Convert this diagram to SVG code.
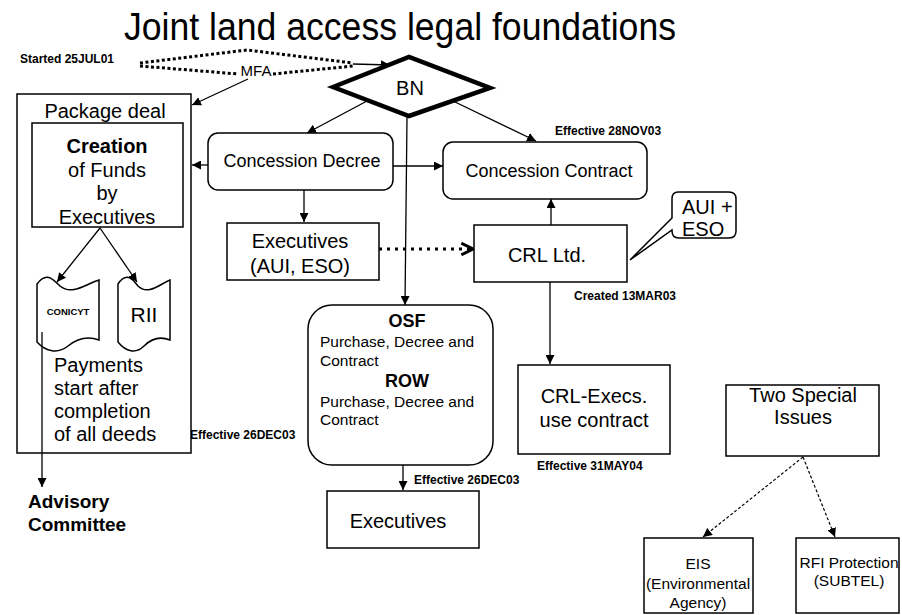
<svg xmlns="http://www.w3.org/2000/svg" width="902" height="615" viewBox="0 0 902 615">
<defs>
<marker id="ah" viewBox="0 0 10 10" refX="10" refY="5" markerWidth="9" markerHeight="9" markerUnits="userSpaceOnUse" orient="auto">
<path d="M0,0 L10,5 L0,10 z" fill="#000"/>
</marker>
<marker id="chev" viewBox="0 0 12 12" refX="11" refY="6" markerWidth="14" markerHeight="14" markerUnits="userSpaceOnUse" orient="auto">
<path d="M1,1 L11,6 L1,11" fill="none" stroke="#000" stroke-width="2.5"/>
</marker>
</defs>
<style>
text{font-family:"Liberation Sans",Arial,sans-serif;fill:#000}
.box{fill:#fff;stroke:#000;stroke-width:1.5}
.c{stroke:#000;stroke-width:1.3;fill:none}
.a{marker-end:url(#ah)}
.t20{font-size:20px}
.t18{font-size:18px}
.t15{font-size:15.5px}
.lbl{font-size:12px;font-weight:bold}
.mid{text-anchor:middle}
</style>
<rect width="902" height="615" fill="#fff"/>
<text x="400" y="40" class="mid" font-size="38" textLength="552" lengthAdjust="spacingAndGlyphs">Joint land access legal foundations</text>

<g id="labels">
<text x="20" y="63" class="lbl">Started 25JUL01</text>
<text x="555" y="135" class="lbl">Effective 28NOV03</text>
<text x="574" y="300" class="lbl">Created 13MAR03</text>
<text x="190" y="439" class="lbl">Effective 26DEC03</text>
<text x="414" y="484" class="lbl">Effective 26DEC03</text>
<text x="537" y="470" class="lbl">Effective 31MAY04</text>
</g>

<g id="mfa">
<path d="M140,63 L247,50 L353,63" fill="none" stroke="#000" stroke-width="3" stroke-dasharray="3,2.5"/>
<path d="M140,66 L238,74 M273,74 L353,66" fill="none" stroke="#000" stroke-width="3" stroke-dasharray="3,2.5"/>
<text x="256" y="76" class="mid" font-size="15">MFA</text>
</g>

<g id="bn">
<path d="M333,87 L409,57 L490,88 L409,116 z" fill="#fff" stroke="#000" stroke-width="4.5" stroke-linejoin="miter"/>
<text x="410" y="95" class="mid t20">BN</text>
</g>

<g id="package-deal">
<rect x="17" y="94" width="174" height="359" class="box"/>
<text x="105" y="118" class="mid t20">Package deal</text>
</g>

<g id="creation">
<rect x="32" y="123" width="151" height="104" class="box"/>
<text x="107" y="153" class="mid t20" font-weight="bold">Creation</text>
<text x="107" y="177" class="mid t20">of Funds</text>
<text x="107" y="200" class="mid t20">by</text>
<text x="107" y="224" class="mid t20">Executives</text>
</g>

<g id="conicyt">
<path d="M37,284 C46,272 52,278 60,286 C72,296 86,284 99,280 L99,340 C88,336 78,338 68,346 C58,354 46,352 37,342 z" class="box"/>
<text x="68" y="315" class="mid" font-size="9.5" font-weight="bold">CONICYT</text>
</g>

<g id="rii">
<path d="M118,284 C126,272 132,278 138,286 C148,296 160,284 170,280 L170,340 C160,336 152,338 144,346 C136,354 126,352 118,342 z" class="box"/>
<text x="144" y="322" class="mid" font-size="21">RII</text>
</g>

<g id="payments">
<text x="54" y="372" class="t20">Payments</text>
<text x="54" y="395" class="t20">start after</text>
<text x="54" y="418" class="t20">completion</text>
<text x="54" y="441" class="t20">of all deeds</text>
</g>

<g id="advisory">
<text x="28" y="508" font-size="19" font-weight="bold">Advisory</text>
<text x="28" y="531" font-size="19" font-weight="bold">Committee</text>
</g>

<g id="concession-decree">
<rect x="208" y="133" width="185" height="57" rx="10" class="box"/>
<text x="302" y="167" class="mid t18">Concession Decree</text>
</g>

<g id="concession-contract">
<rect x="443" y="142" width="204" height="57" rx="10" class="box"/>
<text x="549" y="177" class="mid t18">Concession Contract</text>
</g>

<g id="executives-aui">
<rect x="227" y="223" width="152" height="57" class="box"/>
<text x="300" y="248" class="mid t20">Executives</text>
<text x="300" y="273" class="mid t20">(AUI, ESO)</text>
</g>

<g id="crl">
<rect x="474" y="225" width="153" height="57" class="box"/>
<text x="547" y="262" class="mid t20">CRL Ltd.</text>
</g>

<g id="callout">
<path d="M678,192 L729,192 Q736,192 736,199 L736,231 Q736,238 729,238 L679,238 Q672,238 672,231 L672,230 L630,260 L672,218 L672,199 Q672,192 678,192 z" class="box" stroke-width="1.3"/>
<text x="682" y="214" class="t20">AUI +</text>
<text x="682" y="236" class="t20">ESO</text>
</g>

<g id="osf">
<rect x="308" y="305" width="185" height="160" rx="24" class="box"/>
<text x="407" y="327" class="mid" font-size="18" font-weight="bold">OSF</text>
<text x="320" y="347" class="t15">Purchase, Decree and</text>
<text x="320" y="366" class="t15">Contract</text>
<text x="407" y="387" class="mid" font-size="18" font-weight="bold">ROW</text>
<text x="320" y="407" class="t15">Purchase, Decree and</text>
<text x="320" y="425" class="t15">Contract</text>
</g>

<g id="executives">
<rect x="327" y="491" width="152" height="57" class="box"/>
<text x="398" y="528" class="mid t20">Executives</text>
</g>

<g id="crl-execs">
<rect x="518" y="365" width="152" height="89" class="box"/>
<text x="594" y="403" class="mid t20">CRL-Execs.</text>
<text x="594" y="427" class="mid t20">use contract</text>
</g>

<g id="two-special">
<rect x="726" y="385" width="153" height="71" class="box"/>
<text x="803" y="402" class="mid t20">Two Special</text>
<text x="803" y="424" class="mid t20">Issues</text>
</g>

<g id="eis">
<rect x="644" y="538" width="109" height="75" class="box"/>
<text x="698" y="569" class="mid t15">EIS</text>
<text x="698" y="589" class="mid t15">(Environmental</text>
<text x="698" y="608" class="mid t15">Agency)</text>
</g>

<g id="rfi">
<rect x="796" y="538" width="103" height="75" class="box"/>
<text x="849" y="568" class="mid t15">RFI Protection</text>
<text x="849" y="586" class="mid t15">(SUBTEL)</text>
</g>

<g id="connectors">
<line x1="353" y1="64" x2="390" y2="65" class="c a"/>
<line x1="248" y1="79" x2="192" y2="105" class="c a"/>
<line x1="367" y1="101" x2="307" y2="133" class="c a"/>
<line x1="453" y1="101" x2="536" y2="141" class="c a"/>
<line x1="407" y1="117" x2="405" y2="305" class="c a"/>
<line x1="208" y1="165" x2="192" y2="165" class="c a"/>
<line x1="393" y1="166" x2="443" y2="166" class="c a"/>
<line x1="304" y1="190" x2="304" y2="222" class="c a"/>
<line x1="551" y1="225" x2="551" y2="199" class="c a"/>
<line x1="550" y1="282" x2="550" y2="364" class="c a"/>
<line x1="403" y1="465" x2="403" y2="490" class="c a"/>
<line x1="100" y1="228" x2="57" y2="282" class="c a"/>
<line x1="100" y1="228" x2="137" y2="282" class="c a"/>
<line x1="42" y1="332" x2="42" y2="487" class="c a"/>
<line x1="379" y1="249" x2="473" y2="249" stroke="#000" stroke-width="3" stroke-dasharray="3,5" fill="none" marker-end="url(#chev)"/>
<line x1="803" y1="457" x2="703" y2="537" stroke="#000" stroke-width="1.2" stroke-dasharray="3,2" fill="none" marker-end="url(#ah)"/>
<line x1="803" y1="457" x2="835" y2="537" stroke="#000" stroke-width="1.2" stroke-dasharray="3,2" fill="none" marker-end="url(#ah)"/>
</g>
</svg>
